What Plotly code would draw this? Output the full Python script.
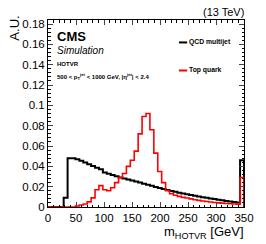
import plotly.graph_objects as go

# bin lower edges (7 GeV bins, 0-350 GeV)
bin_width = 7
bin_edges = list(range(0, 350, bin_width))

qcd = [0, 0, 0, 0, 0.009, 0.048, 0.048, 0.047, 0.0455, 0.0438,
       0.042, 0.0403, 0.0387, 0.0372, 0.0340, 0.0328, 0.0316, 0.0302, 0.0290, 0.0280,
       0.0270, 0.0260, 0.0250, 0.0240, 0.0229, 0.0218, 0.0208, 0.0197, 0.0187, 0.0177,
       0.0167, 0.0158, 0.0149, 0.0141, 0.0133, 0.0125, 0.0118, 0.0111, 0.0104, 0.0097,
       0.0090, 0.0084, 0.0078, 0.0072, 0.0066, 0.0060, 0.0055, 0.0050, 0.0045, 0.046]

top = [0, 0, 0, 0, 0, 0, 0, 0.001, 0.002, 0.003,
       0.005, 0.009, 0.017, 0.021, 0.017, 0.016, 0.019, 0.024, 0.029, 0.033,
       0.040, 0.046, 0.055, 0.072, 0.089, 0.092, 0.076, 0.053, 0.035, 0.024,
       0.016, 0.013, 0.0115, 0.0105, 0.0095, 0.0088, 0.0080, 0.0072, 0.0065, 0.0059,
       0.0054, 0.0049, 0.0045, 0.0041, 0.0038, 0.0035, 0.0032, 0.0030, 0.0028, 0.029]

x_ticks = [0, 50, 100, 150, 200, 250, 300, 350]
y_ticks = [0, 0.02, 0.04, 0.06, 0.08, 0.1, 0.12, 0.14, 0.16, 0.18]
y_ticklabels = ["0", "0.02", "0.04", "0.06", "0.08", "0.1", "0.12", "0.14", "0.16", "0.18"]


def step_xy(edges, vals, w):
    xs = [edges[0]] + list(edges) + [edges[-1] + w, edges[-1] + w]
    ys = [0] + list(vals) + [vals[-1], 0]
    return xs, ys


FONT = "Liberation Sans, Arial, Helvetica, sans-serif"

fig = go.Figure()
xq, yq = step_xy(bin_edges, qcd, bin_width)
fig.add_trace(go.Scatter(x=xq, y=yq, mode="lines", line=dict(color="black", width=2, shape="hv"),
                         name="QCD multijet", showlegend=False, hoverinfo="skip"))
xt, yt = step_xy(bin_edges, top, bin_width)
fig.add_trace(go.Scatter(x=xt, y=yt, mode="lines", line=dict(color="#ff0000", width=1.6, shape="hv"),
                         name="Top quark", showlegend=False, hoverinfo="skip"))

fig.update_layout(
    width=266, height=244,
    margin=dict(l=48, r=16, t=20, b=37),
    paper_bgcolor="white", plot_bgcolor="white",
    font=dict(family=FONT, color="black", size=11),
    xaxis=dict(range=[0, 350], tickvals=x_ticks, ticks="inside", ticklen=5, tickwidth=1,
               showline=True, linecolor="black", linewidth=1, mirror="allticks",
               showgrid=False, zeroline=False, tickfont=dict(size=11.5),
               minor=dict(dtick=10, ticklen=2.5, ticks="inside", tickcolor="black", showgrid=False)),
    yaxis=dict(range=[0, 0.184], tickvals=y_ticks, ticktext=y_ticklabels, ticks="inside",
               ticklen=5, tickwidth=1, showline=True, linecolor="black", linewidth=1,
               mirror="allticks", showgrid=False, zeroline=False, tickfont=dict(size=11.5),
               minor=dict(dtick=0.004, ticklen=2.5, ticks="inside", tickcolor="black", showgrid=False)),
)

ann = []
ann.append(dict(text="A.U.", textangle=-90, xref="paper", yref="paper", x=-0.17, y=1.035,
                xanchor="center", yanchor="top", showarrow=False, font=dict(size=13)))
ann.append(dict(text="m<sub>HOTVR</sub> [GeV]", xref="paper", yref="paper", x=1.01, y=-0.19,
                xanchor="right", yanchor="bottom", showarrow=False, font=dict(size=13)))
ann.append(dict(text="(13 TeV)", xref="paper", yref="paper", x=1.01, y=1.0,
                xanchor="right", yanchor="bottom", showarrow=False, font=dict(size=11)))
ann.append(dict(text="<b>CMS</b>", xref="paper", yref="paper", x=0.035, y=0.965,
                xanchor="left", yanchor="top", showarrow=False, font=dict(size=13)))
ann.append(dict(text="<i>Simulation</i>", xref="paper", yref="paper", x=0.035, y=0.875,
                xanchor="left", yanchor="top", showarrow=False, font=dict(size=10)))
ann.append(dict(text="<b>HOTVR</b>", xref="paper", yref="paper", x=0.035, y=0.79,
                xanchor="left", yanchor="top", showarrow=False, font=dict(size=6)))
ann.append(dict(text="<b>500 &lt; p<sub>T</sub><sup>jet</sup> &lt; 1000 GeV, |η<sup>jet</sup>| &lt; 2.4</b>",
                xref="paper", yref="paper", x=0.035, y=0.73,
                xanchor="left", yanchor="top", showarrow=False, font=dict(size=6)))
ann.append(dict(text="<b>QCD multijet</b>", xref="paper", yref="paper", x=0.71, y=0.88,
                xanchor="left", yanchor="middle", showarrow=False, font=dict(size=6.8)))
ann.append(dict(text="<b>Top quark</b>", xref="paper", yref="paper", x=0.71, y=0.73,
                xanchor="left", yanchor="middle", showarrow=False, font=dict(size=6.8)))
fig.update_layout(annotations=ann)

# legend key lines
fig.add_shape(type="line", xref="paper", yref="paper", x0=0.668, x1=0.71, y0=0.88, y1=0.88,
              line=dict(color="black", width=2))
fig.add_shape(type="line", xref="paper", yref="paper", x0=0.668, x1=0.71, y0=0.73, y1=0.73,
              line=dict(color="#ff0000", width=2))

fig.write_html("out.html", config={"displayModeBar": False},
               post_script="document.body.style.margin='0';document.body.style.overflow='hidden';")
